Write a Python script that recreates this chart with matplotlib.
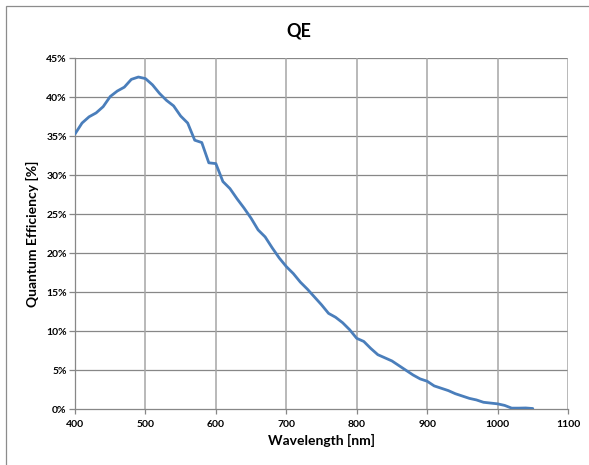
import matplotlib
matplotlib.use('Agg')
import matplotlib.pyplot as plt
from matplotlib.patches import Rectangle
from matplotlib.ticker import FuncFormatter

# wavelength [nm] and quantum efficiency [%]
wavelength = [400, 410, 420, 430, 440, 450, 460, 470, 480, 490,
              500, 510, 520, 530, 540, 550, 560, 570, 580, 590,
              600, 610, 620, 630, 640, 650, 660, 670, 680, 690,
              700, 710, 720, 730, 740, 750, 760, 770, 780, 790,
              800, 810, 820, 830, 840, 850, 860, 870, 880, 890,
              900, 910, 920, 930, 940, 950, 960, 970, 980, 990,
              1000, 1010, 1020, 1030, 1040, 1050]
qe = [35.3, 36.7, 37.5, 38.0, 38.8, 40.1, 40.8, 41.3, 42.3, 42.6,
      42.4, 41.6, 40.5, 39.6, 38.9, 37.6, 36.7, 34.5, 34.2, 31.6,
      31.5, 29.2, 28.3, 27.0, 25.8, 24.5, 23.0, 22.1, 20.7, 19.4,
      18.3, 17.4, 16.3, 15.4, 14.4, 13.4, 12.3, 11.8, 11.1, 10.2,
      9.1, 8.7, 7.8, 7.0, 6.6, 6.2, 5.6, 5.0, 4.4, 3.9,
      3.6, 3.0, 2.7, 2.4, 2.0, 1.7, 1.4, 1.2, 0.9, 0.8,
      0.7, 0.5, 0.15, 0.15, 0.17, 0.1]

x_ticks = [400, 500, 600, 700, 800, 900, 1000, 1100]
y_ticks = [0, 5, 10, 15, 20, 25, 30, 35, 40, 45]

plt.rcParams['font.family'] = ['Lato', 'DejaVu Sans']
plt.rcParams['font.weight'] = 'bold'

W, H = 589, 465
fig = plt.figure(figsize=(W / 100, H / 100), dpi=100)
ax = fig.add_axes([75 / W, 1 - 409.3 / H, 493 / W, 351 / H])

# outer chart frame (right and bottom edges fall outside the picture)
fig.patches.append(Rectangle((5.5 / W, -0.1), 1.2, 1.1 - 6.5 / H,
                             transform=fig.transFigure, fill=False,
                             edgecolor='#8c8c8c', lw=0.9))

ax.plot(wavelength, qe, color='#4a7ebb', lw=2.0, solid_joinstyle='round',
        solid_capstyle='round', zorder=3)

ax.set_xlim(400, 1100)
ax.set_ylim(0, 45)
ax.set_xticks(x_ticks)
ax.set_yticks(y_ticks)
ax.yaxis.set_major_formatter(FuncFormatter(lambda v, p: '%d%%' % v))

# gridlines
for v in y_ticks[1:]:
    ax.axhline(v, color='#878787', lw=0.9, zorder=1)
for v in x_ticks[1:]:
    ax.axvline(v, color='#a6a6a6', lw=1.1, zorder=1)

for s in ['top', 'right']:
    ax.spines[s].set_visible(False)
for s in ['left', 'bottom']:
    ax.spines[s].set_color('#878787')
    ax.spines[s].set_linewidth(0.9)

ax.tick_params(axis='both', direction='out', colors='#878787', width=0.9,
               labelcolor='black', labelsize=7.5)
ax.tick_params(axis='y', length=4, pad=2)
ax.tick_params(axis='x', length=3.5, pad=4)
for lab in ax.get_xticklabels() + ax.get_yticklabels():
    lab.set_fontweight('bold')

ax.set_xlabel('Wavelength [nm]', fontsize=10, fontweight='bold', labelpad=4)
ax.set_ylabel('Quantum Efficiency [%]', fontsize=10, fontweight='bold', labelpad=5)
fig.text(299 / W, 1 - 31 / H, 'QE', ha='center', va='center',
         fontsize=13, fontweight='bold')

fig.savefig('out.png', dpi=100)
